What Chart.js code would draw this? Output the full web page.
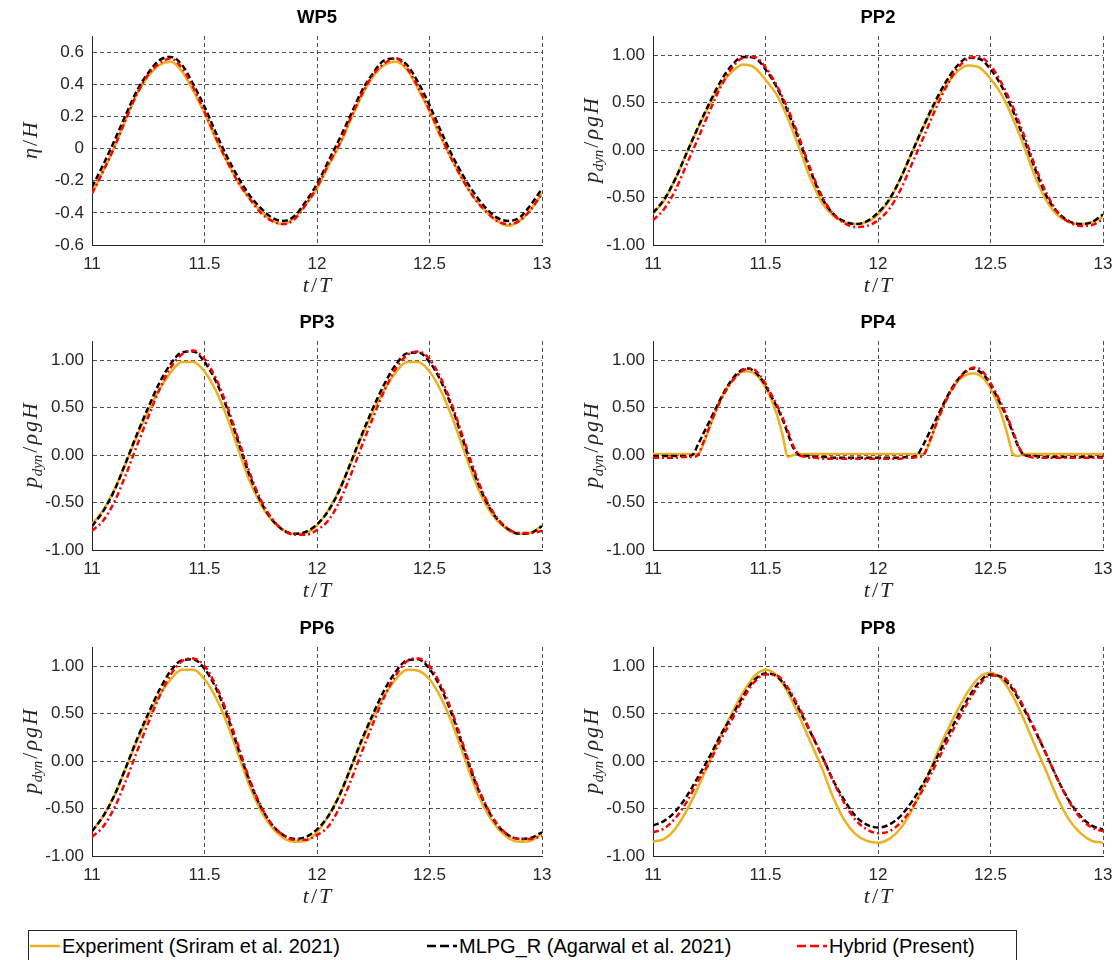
<!DOCTYPE html>
<html>
<head>
<meta charset="utf-8">
<script src="https://cdn.jsdelivr.net/npm/chart.js@4.4.0/dist/chart.umd.min.js"></script>
<style>
  body { margin: 0; background: #fff; width: 1115px; height: 960px; overflow: hidden; position: relative; font-family: 'Liberation Sans', Arial, sans-serif; }
  canvas.panel { position: absolute; }
  #legend { position: absolute; left: 28px; top: 930px; width: 989px; height: 40px; border: 1px solid #262626; box-sizing: border-box; background: #fff; }
  .item { position: absolute; top: 4px; height: 22px; display: flex; align-items: center; font-size: 20px; color: #000; white-space: nowrap; }
  .item svg { margin-right: 2px; }
</style>
</head>
<body>
<div id="legend">
  <div class="item" style="left: 1px;"><svg width="30" height="10"><line x1="0" y1="5" x2="30" y2="5" stroke="#EDB120" stroke-width="2.5"/></svg>Experiment (Sriram et al. 2021)</div>
  <div class="item" style="left: 398px;"><svg width="30" height="10"><line x1="0" y1="5" x2="30" y2="5" stroke="#000" stroke-width="2.5" stroke-dasharray="9,4"/></svg>MLPG_R (Agarwal et al. 2021)</div>
  <div class="item" style="left: 768px;"><svg width="30" height="10"><line x1="0" y1="5" x2="30" y2="5" stroke="#FF0000" stroke-width="2.5" stroke-dasharray="9,4"/></svg>Hybrid (Present)</div>
</div>
<script>
// sample times (t/T)
const tCoarse = [11.00, 11.05, 11.10, 11.15, 11.20, 11.25, 11.30, 11.35, 11.40, 11.45,
  11.50, 11.55, 11.60, 11.65, 11.70, 11.75, 11.80, 11.85, 11.90, 11.95,
  12.00, 12.05, 12.10, 12.15, 12.20, 12.25, 12.30, 12.35, 12.40, 12.45,
  12.50, 12.55, 12.60, 12.65, 12.70, 12.75, 12.80, 12.85, 12.90, 12.95, 13.00];

const tFine = [11.000, 11.025, 11.050, 11.075, 11.100, 11.125, 11.150, 11.175, 11.200,
  11.225, 11.250, 11.275, 11.300, 11.325, 11.350, 11.375, 11.400, 11.425, 11.450,
  11.475, 11.500, 11.525, 11.550, 11.575, 11.600, 11.625, 11.650,
  11.675, 11.700, 11.725, 11.750, 11.775, 11.800, 11.825, 11.850, 11.875, 11.900,
  11.925, 11.950, 11.975, 12.000, 12.025, 12.050, 12.075, 12.100, 12.125, 12.150, 12.175,
  12.200, 12.225, 12.250, 12.275, 12.300, 12.325, 12.350, 12.375, 12.400, 12.425,
  12.450, 12.475, 12.500, 12.525, 12.550, 12.575, 12.600, 12.625, 12.650,
  12.675, 12.700, 12.725, 12.750, 12.775, 12.800, 12.825, 12.850, 12.875, 12.900,
  12.925, 12.950, 12.975, 13.000];

// axis tick values
const timeTicks = [11, 11.5, 12, 12.5, 13];
const etaTicks = [-0.6, -0.4, -0.2, 0, 0.2, 0.4, 0.6];
const pressureTicks = [-1, -0.5, 0, 0.5, 1];

// WP5: free surface elevation eta/H
const wp5Exp = [-0.28, -0.14, 0.01, 0.18, 0.34, 0.45, 0.52, 0.54, 0.48, 0.36,
  0.22, 0.06, -0.08, -0.21, -0.31, -0.39, -0.45, -0.47, -0.43, -0.35,
  -0.25, -0.11, 0.02, 0.18, 0.33, 0.45, 0.52, 0.54, 0.49, 0.37,
  0.23, 0.07, -0.07, -0.20, -0.31, -0.39, -0.45, -0.48, -0.45, -0.38, -0.28];
const wp5Mlpg = [-0.24, -0.10, 0.05, 0.21, 0.36, 0.47, 0.55, 0.57, 0.52, 0.40,
  0.26, 0.10, -0.05, -0.18, -0.29, -0.37, -0.43, -0.45, -0.42, -0.33,
  -0.22, -0.08, 0.06, 0.21, 0.36, 0.47, 0.55, 0.56, 0.52, 0.41,
  0.27, 0.11, -0.04, -0.17, -0.28, -0.37, -0.43, -0.45, -0.43, -0.35, -0.25];
const wp5Hybrid = [-0.28, -0.14, 0.01, 0.18, 0.34, 0.46, 0.53, 0.56, 0.50, 0.38,
  0.23, 0.07, -0.08, -0.21, -0.31, -0.40, -0.45, -0.47, -0.44, -0.35,
  -0.24, -0.10, 0.03, 0.19, 0.34, 0.46, 0.53, 0.56, 0.50, 0.38,
  0.24, 0.08, -0.07, -0.20, -0.31, -0.39, -0.45, -0.47, -0.45, -0.38, -0.28];

// PP2
const pp2Exp = [-0.67, -0.53, -0.30, -0.03, 0.23, 0.47, 0.68, 0.82, 0.90, 0.87,
  0.74, 0.58, 0.33, 0.02, -0.30, -0.55, -0.69, -0.76, -0.78, -0.76,
  -0.68, -0.53, -0.30, -0.03, 0.23, 0.47, 0.67, 0.82, 0.89, 0.87,
  0.75, 0.58, 0.33, 0.03, -0.29, -0.54, -0.69, -0.76, -0.78, -0.76, -0.70];
const pp2Mlpg = [-0.66, -0.52, -0.30, -0.03, 0.24, 0.49, 0.72, 0.89, 0.98, 0.97,
  0.85, 0.66, 0.40, 0.10, -0.22, -0.50, -0.67, -0.75, -0.78, -0.75,
  -0.66, -0.52, -0.30, -0.03, 0.24, 0.49, 0.71, 0.88, 0.97, 0.96,
  0.85, 0.67, 0.41, 0.11, -0.21, -0.49, -0.66, -0.75, -0.78, -0.76, -0.68];
const pp2Hybrid = [-0.74, -0.62, -0.42, -0.15, 0.12, 0.40, 0.66, 0.86, 0.97, 0.98,
  0.87, 0.68, 0.43, 0.13, -0.20, -0.48, -0.67, -0.77, -0.81, -0.80,
  -0.74, -0.62, -0.42, -0.15, 0.12, 0.40, 0.65, 0.85, 0.96, 0.98,
  0.89, 0.70, 0.45, 0.15, -0.18, -0.46, -0.66, -0.76, -0.80, -0.79, -0.73];

// PP3
const pp3Exp = [-0.73, -0.58, -0.36, -0.09, 0.20, 0.46, 0.69, 0.87, 0.98, 0.98,
  0.88, 0.68, 0.40, 0.06, -0.27, -0.52, -0.69, -0.79, -0.83, -0.82,
  -0.74, -0.58, -0.36, -0.09, 0.20, 0.46, 0.69, 0.87, 0.98, 0.98,
  0.88, 0.68, 0.40, 0.07, -0.26, -0.52, -0.69, -0.79, -0.83, -0.82, -0.74];
const pp3Mlpg = [-0.75, -0.59, -0.37, -0.08, 0.22, 0.50, 0.76, 0.96, 1.08, 1.09,
  0.98, 0.78, 0.49, 0.14, -0.21, -0.49, -0.68, -0.79, -0.83, -0.81,
  -0.73, -0.59, -0.37, -0.08, 0.22, 0.50, 0.75, 0.95, 1.07, 1.08,
  0.98, 0.78, 0.50, 0.15, -0.20, -0.48, -0.67, -0.78, -0.83, -0.82, -0.75];
const pp3Hybrid = [-0.80, -0.69, -0.49, -0.21, 0.10, 0.40, 0.69, 0.92, 1.06, 1.10,
  1.01, 0.81, 0.52, 0.17, -0.18, -0.47, -0.67, -0.79, -0.84, -0.84,
  -0.79, -0.69, -0.49, -0.21, 0.10, 0.40, 0.68, 0.91, 1.05, 1.09,
  1.01, 0.81, 0.53, 0.18, -0.17, -0.46, -0.66, -0.78, -0.82, -0.82, -0.80];

// PP4 (sampled finer, the signal has sharp corners)
const pp4Exp = [0.01, 0.01, 0.01, 0.01, 0.01, 0.01, 0.01, 0.01, 0.01,
  0.12, 0.28, 0.44, 0.58, 0.69, 0.78, 0.84, 0.88, 0.88, 0.86,
  0.80, 0.71, 0.59, 0.43, 0.22, -0.02, 0.00, 0.01,
  0.01, 0.01, 0.01, 0.01, 0.01, 0.01, 0.01, 0.01, 0.01, 0.01,
  0.01, 0.01, 0.01, 0.01, 0.01, 0.01, 0.01, 0.01, 0.01, 0.01, 0.01,
  0.01, 0.10, 0.27, 0.43, 0.57, 0.68, 0.76, 0.82, 0.85, 0.86,
  0.84, 0.79, 0.70, 0.58, 0.42, 0.22, 0.01, -0.01, 0.01,
  0.01, 0.01, 0.01, 0.01, 0.01, 0.01, 0.01, 0.01, 0.01, 0.01,
  0.01, 0.01, 0.01, 0.01];
const pp4Mlpg = [-0.01, -0.01, -0.01, -0.01, -0.01, -0.01, -0.01, 0.00, 0.11,
  0.23, 0.35, 0.47, 0.59, 0.70, 0.79, 0.86, 0.90, 0.91, 0.88,
  0.82, 0.73, 0.62, 0.51, 0.38, 0.22, 0.07, 0.00,
  -0.01, -0.01, -0.02, -0.02, -0.02, -0.03, -0.03, -0.03, -0.03, -0.03,
  -0.03, -0.03, -0.03, -0.03, -0.03, -0.03, -0.03, -0.03, -0.02, -0.02, 0.00,
  0.10, 0.22, 0.34, 0.46, 0.58, 0.69, 0.78, 0.85, 0.90, 0.91,
  0.88, 0.83, 0.74, 0.63, 0.51, 0.38, 0.23, 0.08, 0.00,
  -0.01, -0.01, -0.02, -0.02, -0.02, -0.02, -0.02, -0.02, -0.02, -0.02,
  -0.02, -0.02, -0.02, -0.02];
const pp4Hybrid = [-0.03, -0.03, -0.03, -0.03, -0.03, -0.02, -0.02, -0.02, 0.00,
  0.14, 0.29, 0.44, 0.57, 0.68, 0.77, 0.84, 0.89, 0.91, 0.90,
  0.84, 0.75, 0.64, 0.53, 0.40, 0.25, 0.09, 0.00,
  -0.02, -0.03, -0.03, -0.04, -0.04, -0.04, -0.04, -0.04, -0.04, -0.04,
  -0.04, -0.04, -0.04, -0.04, -0.04, -0.04, -0.04, -0.04, -0.03, -0.03, -0.02,
  -0.01, 0.12, 0.27, 0.42, 0.56, 0.67, 0.77, 0.84, 0.89, 0.92,
  0.91, 0.85, 0.76, 0.65, 0.53, 0.40, 0.25, 0.09, 0.00,
  -0.02, -0.03, -0.03, -0.03, -0.03, -0.03, -0.03, -0.03, -0.03, -0.03,
  -0.03, -0.03, -0.03, -0.03];

// PP6
const pp6Exp = [-0.74, -0.58, -0.36, -0.08, 0.21, 0.47, 0.69, 0.86, 0.96, 0.96,
  0.86, 0.67, 0.40, 0.07, -0.26, -0.52, -0.70, -0.81, -0.85, -0.84,
  -0.75, -0.58, -0.36, -0.08, 0.21, 0.47, 0.69, 0.86, 0.96, 0.95,
  0.86, 0.67, 0.40, 0.07, -0.26, -0.52, -0.70, -0.81, -0.85, -0.84, -0.76];
const pp6Mlpg = [-0.74, -0.58, -0.36, -0.07, 0.23, 0.50, 0.75, 0.95, 1.06, 1.07,
  0.97, 0.77, 0.48, 0.13, -0.21, -0.48, -0.67, -0.78, -0.82, -0.80,
  -0.72, -0.58, -0.36, -0.07, 0.23, 0.50, 0.75, 0.94, 1.06, 1.07,
  0.97, 0.77, 0.49, 0.14, -0.20, -0.47, -0.67, -0.78, -0.82, -0.81, -0.75];
const pp6Hybrid = [-0.80, -0.69, -0.49, -0.21, 0.10, 0.40, 0.68, 0.91, 1.05, 1.08,
  1.00, 0.80, 0.51, 0.16, -0.19, -0.47, -0.67, -0.78, -0.83, -0.83,
  -0.78, -0.69, -0.49, -0.21, 0.10, 0.40, 0.68, 0.90, 1.05, 1.08,
  1.00, 0.80, 0.52, 0.17, -0.18, -0.46, -0.66, -0.78, -0.82, -0.82, -0.79];

// PP8
const pp8Exp = [-0.85, -0.82, -0.71, -0.52, -0.28, -0.01, 0.26, 0.50, 0.72, 0.89,
  0.96, 0.90, 0.72, 0.47, 0.20, -0.07, -0.38, -0.62, -0.77, -0.84,
  -0.86, -0.82, -0.71, -0.52, -0.27, 0.01, 0.28, 0.52, 0.73, 0.88,
  0.93, 0.86, 0.68, 0.43, 0.15, -0.12, -0.40, -0.62, -0.76, -0.84, -0.86];
const pp8Mlpg = [-0.68, -0.63, -0.53, -0.37, -0.17, 0.04, 0.27, 0.47, 0.68, 0.85,
  0.92, 0.89, 0.75, 0.54, 0.30, 0.06, -0.20, -0.41, -0.58, -0.67,
  -0.70, -0.67, -0.58, -0.43, -0.24, -0.02, 0.22, 0.45, 0.66, 0.83,
  0.91, 0.88, 0.75, 0.54, 0.31, 0.06, -0.20, -0.42, -0.58, -0.68, -0.72];
const pp8Hybrid = [-0.75, -0.71, -0.60, -0.43, -0.21, -0.02, 0.22, 0.43, 0.65, 0.83,
  0.91, 0.90, 0.77, 0.56, 0.31, 0.06, -0.21, -0.44, -0.62, -0.72,
  -0.76, -0.74, -0.65, -0.50, -0.30, -0.07, 0.17, 0.40, 0.62, 0.80,
  0.90, 0.89, 0.77, 0.56, 0.32, 0.06, -0.20, -0.43, -0.60, -0.70, -0.74];

const TEXT = '#262626';
const SANS = '"Liberation Sans", Arial, sans-serif';
const SERIF = '"Liberation Serif", "Times New Roman", serif';

// math-style axis labels, pieces drawn one after another (gap = space after the piece)
const X_LABEL = [{ text: 't', gap: 2 }, { text: '/', upright: true, gap: 2 }, { text: 'T' }];
const ETA_LABEL = [{ text: 'η', gap: 2 }, { text: '/', upright: true, gap: 2 }, { text: 'H' }];
const P_LABEL = [{ text: 'p', gap: 0.5 }, { text: 'dyn', size: 15, dy: 5, gap: 2 },
  { text: '/', upright: true, gap: 2 }, { text: 'ρ', gap: 2 }, { text: 'g', gap: 2 }, { text: 'H' }];

function drawMath(ctx, parts, cx, cy, vertical) {
  ctx.save();
  ctx.translate(cx, cy);
  if (vertical) ctx.rotate(-Math.PI / 2);
  ctx.fillStyle = TEXT;
  ctx.textAlign = 'left';
  ctx.textBaseline = 'alphabetic';
  const fontOf = p => `${p.upright ? '' : 'italic '}${p.size || 22}px ${SERIF}`;
  const widths = parts.map(p => {
    ctx.font = fontOf(p);
    return ctx.measureText(p.text).width + (p.gap || 0);
  });
  const total = widths.reduce((a, b) => a + b, 0);
  let x = -total / 2;
  parts.forEach((p, i) => {
    ctx.font = fontOf(p);
    ctx.fillText(p.text, x, 7 + (p.dy || 0));
    x += widths[i];
  });
  ctx.restore();
}

const panelText = {
  id: 'panelText',
  afterDraw(chart, args, opts) {
    const { ctx, chartArea: a } = chart;
    const cx = (a.left + a.right) / 2;
    ctx.save();
    ctx.fillStyle = '#000';
    ctx.font = `bold 18.5px ${SANS}`;
    ctx.textAlign = 'center';
    ctx.textBaseline = 'middle';
    ctx.fillText(opts.title, cx, a.top - 18);
    ctx.restore();
    drawMath(ctx, X_LABEL, cx, a.bottom + 40, false);
    drawMath(ctx, opts.yLabel, a.left - 62, (a.top + a.bottom) / 2, true);
  }
};

function toPoints(ts, ys) {
  return ys.map((y, i) => ({ x: ts[i], y }));
}

const panels = [
  { title: 'WP5', yLabel: ETA_LABEL, t: tCoarse, exp: wp5Exp, mlpg: wp5Mlpg, hyb: wp5Hybrid, min: -0.6, max: 0.7, ticks: etaTicks, digits: 1 },
  { title: 'PP2', yLabel: P_LABEL, t: tCoarse, exp: pp2Exp, mlpg: pp2Mlpg, hyb: pp2Hybrid, min: -1, max: 1.2, ticks: pressureTicks, digits: 2 },
  { title: 'PP3', yLabel: P_LABEL, t: tCoarse, exp: pp3Exp, mlpg: pp3Mlpg, hyb: pp3Hybrid, min: -1, max: 1.2, ticks: pressureTicks, digits: 2 },
  { title: 'PP4', yLabel: P_LABEL, t: tFine, exp: pp4Exp, mlpg: pp4Mlpg, hyb: pp4Hybrid, min: -1, max: 1.2, ticks: pressureTicks, digits: 2 },
  { title: 'PP6', yLabel: P_LABEL, t: tCoarse, exp: pp6Exp, mlpg: pp6Mlpg, hyb: pp6Hybrid, min: -1, max: 1.2, ticks: pressureTicks, digits: 2 },
  { title: 'PP8', yLabel: P_LABEL, t: tCoarse, exp: pp8Exp, mlpg: pp8Mlpg, hyb: pp8Hybrid, min: -1, max: 1.2, ticks: pressureTicks, digits: 2 }
];

const rowTops = [0, 305, 611];
const columns = [
  { left: 0, width: 557, axisWidth: 92, padRight: 15 },
  { left: 557, width: 558, axisWidth: 96, padRight: 12 }
];

panels.forEach((panel, idx) => {
  const col = columns[idx % 2];
  const canvas = document.createElement('canvas');
  canvas.className = 'panel';
  canvas.width = col.width;
  canvas.height = 300;
  canvas.style.left = col.left + 'px';
  canvas.style.top = rowTops[Math.floor(idx / 2)] + 'px';
  document.body.appendChild(canvas);

  const isWp = panel.digits === 1;
  new Chart(canvas, {
    type: 'line',
    data: {
      datasets: [
        { label: 'Experiment (Sriram et al. 2021)', data: toPoints(panel.t, panel.exp),
          borderColor: '#EDB120', borderWidth: 2.5, order: 3 },
        { label: 'MLPG_R (Agarwal et al. 2021)', data: toPoints(panel.t, panel.mlpg),
          borderColor: '#000000', borderWidth: 2.5, borderDash: [6, 3], order: 2 },
        { label: 'Hybrid (Present)', data: toPoints(panel.t, panel.hyb),
          borderColor: '#FF0000', borderWidth: 2.5, borderDash: [6, 3, 2, 3], order: 1 }
      ]
    },
    options: {
      responsive: false,
      animation: false,
      devicePixelRatio: 1,
      layout: { padding: { top: 36, right: col.padRight, left: 0, bottom: 0 } },
      elements: {
        point: { radius: 0 },
        line: { cubicInterpolationMode: 'monotone', fill: false, borderCapStyle: 'butt' }
      },
      plugins: {
        legend: { display: false },
        tooltip: { enabled: false },
        panelText: { title: panel.title, yLabel: panel.yLabel }
      },
      scales: {
        x: {
          type: 'linear',
          min: 11,
          max: 13,
          afterBuildTicks: s => { s.ticks = timeTicks.map(v => ({ value: v })); },
          afterFit: s => { s.height = 55; s.paddingLeft = 0; s.paddingRight = 0; },
          ticks: { padding: 9, color: TEXT, font: { family: SANS, size: 17 },
            callback: v => String(v), maxRotation: 0, autoSkip: false },
          grid: { color: 'rgba(38,38,38,0.8)', lineWidth: 1, drawTicks: false },
          border: { display: true, color: TEXT, width: 1, dash: [4, 3] }
        },
        y: {
          min: panel.min,
          max: panel.max,
          afterBuildTicks: s => { s.ticks = panel.ticks.map(v => ({ value: v })); },
          afterFit: s => { s.width = col.axisWidth; s.paddingTop = 0; s.paddingBottom = 0; },
          ticks: { padding: 8, color: TEXT, autoSkip: false,
            font: { family: SANS, size: 17 },
            callback: v => isWp ? String(Number(v.toFixed(1))) : v.toFixed(2) },
          grid: { color: 'rgba(38,38,38,0.8)', lineWidth: 1, drawTicks: false },
          border: { display: true, color: TEXT, width: 1, dash: [4, 3] }
        }
      }
    },
    plugins: [panelText]
  });
});
</script>
</body>
</html>
